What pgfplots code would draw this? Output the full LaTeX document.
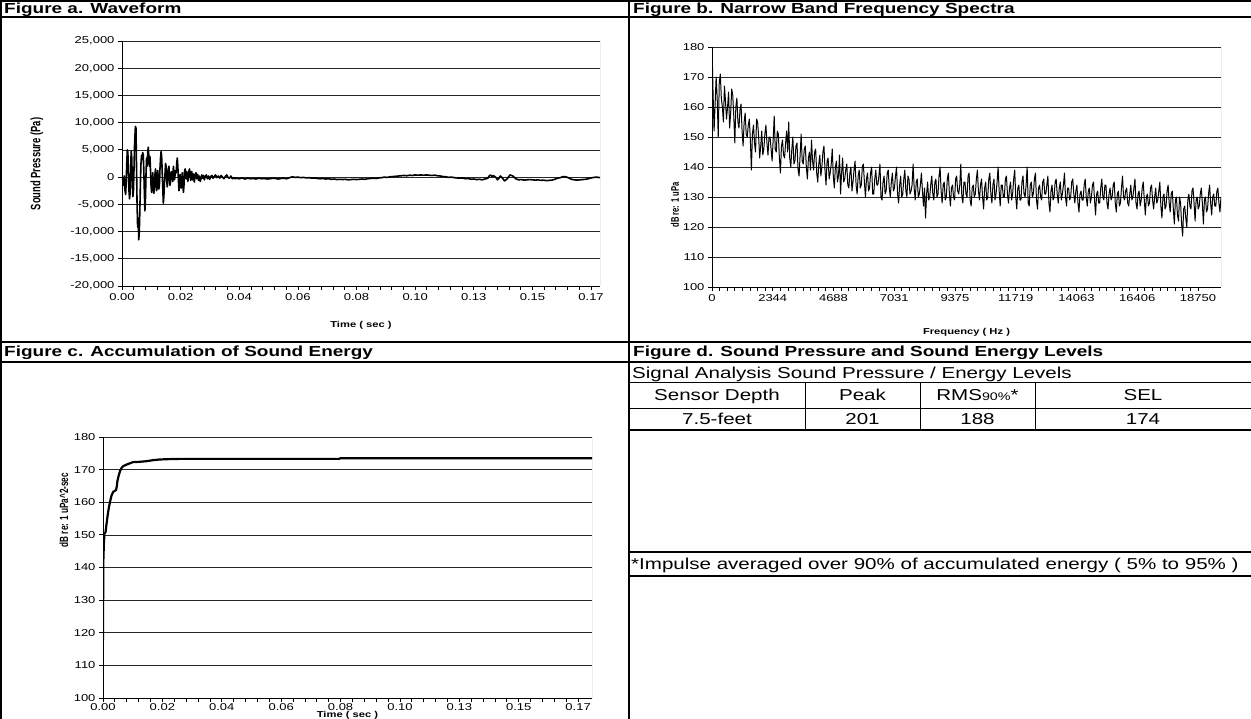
\documentclass[border=0pt]{standalone}
\usepackage{fontspec}
\setmainfont{Liberation Sans}[FakeStretch=1.3]
\newfontfamily\rotfont{Liberation Sans}
\usepackage{graphicx}
\usepackage{pgfplots}
\pgfplotsset{compat=1.18}

\newcommand\titlefont{\fontsize{14.6}{17}\selectfont\bfseries}
\newcommand\tablefont{\fontsize{15.8}{18}\selectfont}
\newcommand\tickfont{\fontsize{10}{11}\selectfont}
\newcommand\xlabfont{\fontsize{8.6}{10}\selectfont\bfseries}
% rotated axis titles: glyph heights stretched like the horizontal text
\newcommand\ylab[2]{\scalebox{1}[1.45]{\rotfont\fontsize{#1}{#1}\selectfont\bfseries #2}}

\pgfplotsset{
  excelaxis/.style={
    scale only axis, anchor=south west,
    axis x line*=bottom, axis y line*=left,
    axis line style={black, line width=0.9pt},
    tick align=outside,
    major tick length=4pt, minor tick length=4pt,
    every tick/.style={black, line width=0.8pt},
    ymajorgrids, grid style={black!85, line width=0.7pt},
    tick label style={font=\tickfont},
    scaled x ticks=false, scaled y ticks=false,
    /pgf/number format/assume math mode=true,
    minor y tick num=0,
    every axis plot/.append style={line join=round},
  },
}

\begin{document}
\begin{tikzpicture}
\path[use as bounding box] (0pt,0pt) rectangle (1251pt,-719pt);

% ---------------- Figure a: waveform ----------------
\begin{axis}[excelaxis,
  at={(122pt,-286pt)}, width=478pt, height=245pt,
  xmin=0, xmax=0.1712, ymin=-20000, ymax=25000,
  xtick={0,0.021,0.042,0.063,0.084,0.105,0.126,0.147,0.168},
  xticklabels={0.00,0.02,0.04,0.06,0.08,0.10,0.13,0.15,0.17},
  minor x tick num=4,
  ytick={-20000,-15000,-10000,-5000,0,5000,10000,15000,20000,25000},
  /pgf/number format/fixed, /pgf/number format/1000 sep={,},
  xlabel={Time ( sec )},
  xlabel style={font=\xlabfont, at={(axis description cs:0.5,-0.159)}, anchor=center},
  ylabel={\ylab{9.4}{Sound Pressure (Pa)}},
  ylabel style={at={(axis description cs:-0.178,0.498)}, anchor=center},
]
\addplot[black, line width=1.6pt] table {
t p
0.0000 0
0.0003 -600
0.0006 -1500
0.0008 200
0.0010 -2200
0.0013 -3200
0.0015 -1000
0.0017 2500
0.0019 5000
0.0021 4600
0.0023 1000
0.0025 -2500
0.0027 -4000
0.0029 -3000
0.0031 1500
0.0033 4800
0.0035 3500
0.0037 -1000
0.0039 -3600
0.0041 -2500
0.0043 1500
0.0045 6000
0.0048 9300
0.0050 9000
0.0052 2000
0.0054 -5000
0.0056 -9200
0.0058 -7500
0.0060 -11500
0.0062 -10000
0.0064 -6000
0.0066 -1000
0.0068 2500
0.0070 4000
0.0072 3200
0.0074 4500
0.0076 4200
0.0078 1500
0.0080 -2500
0.0082 -6200
0.0084 -4000
0.0086 500
0.0088 3500
0.0090 2000
0.0092 4500
0.0094 5500
0.0096 4000
0.0098 2000
0.0100 3800
0.0102 1500
0.0104 -1500
0.0106 -2800
0.0108 -1500
0.0110 800
0.0112 -1000
0.0114 -3000
0.0116 -2200
0.0118 500
0.0120 1500
0.0122 -200
0.0124 -2500
0.0126 -1800
0.0128 1200
0.0130 -500
0.0132 -2200
0.0134 -1500
0.0136 1500
0.0138 3500
0.0140 4700
0.0142 3800
0.0144 1000
0.0146 -2000
0.0148 -4800
0.0150 -3500
0.0152 -1000
0.0154 500
0.0156 2500
0.0158 2000
0.0160 -500
0.0162 -1800
0.0164 -1000
0.0166 1500
0.0168 2000
0.0170 500
0.0172 -1500
0.0174 -800
0.0176 800
0.0178 1000
0.0180 -200
0.0182 -800
0.0184 2000
0.0186 1000
0.0188 -500
0.0190 300
0.0192 1200
0.0194 800
0.0196 2500
0.0198 3500
0.0200 2000
0.0202 -500
0.0204 -2500
0.0206 -1500
0.0208 500
0.0210 -1000
0.0212 -2000
0.0214 -500
0.0216 800
0.0218 -1500
0.0220 -2800
0.0222 -1500
0.0224 1000
0.0226 1500
0.0228 500
0.0230 -300
0.0232 1000
0.0234 600
0.0236 -800
0.0238 400
0.0240 1200
0.0242 1500
0.0244 300
0.0246 -600
0.0248 800
0.0250 1000
0.0253 -500
0.0256 600
0.0259 -900
0.0262 300
0.0265 800
0.0268 -300
0.0271 500
0.0274 -600
0.0277 200
0.0280 -800
0.0283 -300
0.0286 400
0.0289 -200
0.0292 300
0.0295 -500
0.0298 100
0.0302 400
0.0306 -300
0.0310 200
0.0314 -400
0.0318 100
0.0322 300
0.0326 -200
0.0330 100
0.0335 400
0.0340 -100
0.0345 200
0.0350 -200
0.0355 300
0.0360 0
0.0365 -300
0.0370 100
0.0375 400
0.0380 -100
0.0385 -200
0.0390 200
0.0395 -300
0.0400 -100
0.0405 -300
0.0410 -200
0.0420 -300
0.0430 -150
0.0440 -350
0.0450 -200
0.0460 -300
0.0470 -250
0.0480 -350
0.0490 -200
0.0500 -300
0.0510 -250
0.0520 -350
0.0530 -300
0.0540 -200
0.0550 -250
0.0560 -350
0.0570 -250
0.0580 -200
0.0590 -300
0.0600 -100
0.0610 50
0.0620 -50
0.0630 0
0.0640 -100
0.0650 -50
0.0660 -150
0.0670 -100
0.0680 -200
0.0690 -150
0.0700 -250
0.0710 -300
0.0720 -250
0.0730 -350
0.0740 -300
0.0750 -400
0.0760 -350
0.0770 -450
0.0780 -400
0.0790 -450
0.0800 -400
0.0810 -500
0.0820 -450
0.0830 -400
0.0840 -450
0.0850 -400
0.0860 -350
0.0870 -400
0.0880 -300
0.0890 -250
0.0900 -200
0.0910 -250
0.0920 -150
0.0930 -100
0.0940 0
0.0950 -50
0.0960 50
0.0970 100
0.0980 150
0.0990 200
0.1000 250
0.1010 300
0.1020 250
0.1030 350
0.1040 300
0.1050 400
0.1060 350
0.1070 400
0.1080 350
0.1090 400
0.1100 350
0.1110 300
0.1120 350
0.1130 250
0.1140 200
0.1150 100
0.1160 50
0.1170 -50
0.1180 0
0.1190 -100
0.1200 -150
0.1210 -200
0.1220 -150
0.1230 -300
0.1240 -250
0.1250 -400
0.1260 -350
0.1270 -450
0.1280 -400
0.1290 -500
0.1300 -350
0.1310 -200
0.1315 200
0.1320 400
0.1325 100
0.1330 300
0.1340 -100
0.1345 -500
0.1350 -200
0.1355 200
0.1360 0
0.1370 -700
0.1380 -300
0.1385 100
0.1390 400
0.1400 200
0.1410 -300
0.1420 -500
0.1430 -450
0.1440 -550
0.1450 -500
0.1460 -450
0.1470 -500
0.1480 -550
0.1490 -500
0.1500 -600
0.1510 -550
0.1520 -650
0.1530 -600
0.1540 -550
0.1550 -400
0.1560 -200
0.1570 -100
0.1580 100
0.1590 50
0.1600 -150
0.1610 -400
0.1620 -500
0.1630 -550
0.1640 -500
0.1650 -450
0.1660 -400
0.1670 -300
0.1680 -150
0.1690 -50
0.1700 0
0.1712 -100
};
\draw[black!55, line width=0.8pt] (rel axis cs:1,0) -- (rel axis cs:1,1);
\end{axis}

% ---------------- Figure b: narrow band spectrum ----------------
\begin{axis}[excelaxis,
  at={(712pt,-287pt)}, width=509pt, height=240pt,
  xmin=0, xmax=19640, ymin=100, ymax=180,
  xtick={0,2343.75,4687.5,7031.25,9375,11718.75,14062.5,16406.25,18750},
  xticklabels={0,2344,4688,7031,9375,11719,14063,16406,18750},
  minor x tick num=7,
  ytick={100,110,...,180},
  xlabel={Frequency ( Hz )},
  xlabel style={font=\xlabfont, at={(axis description cs:0.5,-0.1875)}, anchor=center},
  ylabel={\ylab{7.6}{dB re: 1 uPa}},
  ylabel style={at={(axis description cs:-0.0728,0.342)}, anchor=center},
]
\addplot[black, line width=1pt] coordinates {
(0,180) (40,165) (80,152) (120,161) (160,170) (200,163) (240,150) (280,168) (320,171) (360,163)
(400,160) (440,155) (480,167) (520,162) (560,156) (600,160) (640,165) (680,153) (720,158) (760,166)
(800,164) (840,157) (880,148) (920,160) (960,163) (1000,155) (1040,153) (1080,159) (1120,161) (1160,152)
(1200,147) (1240,155) (1280,158) (1320,151) (1360,150) (1400,154) (1440,156) (1480,149) (1520,139) (1560,151)
(1600,154) (1640,148) (1680,145) (1720,156) (1760,155) (1800,150) (1840,143) (1880,147) (1920,152) (1960,144)
(2000,146) (2040,151) (2080,154) (2120,148) (2160,144) (2200,150) (2240,150) (2280,146) (2320,142) (2360,149)
(2400,157) (2440,146) (2480,145) (2520,152) (2560,151) (2600,143) (2640,138) (2680,147) (2720,149) (2760,144)
(2800,143) (2840,148) (2880,152) (2920,145) (2960,155) (3000,143) (3040,140) (3080,146) (3120,150) (3160,141)
(3200,142) (3240,147) (3280,148) (3320,139) (3360,137) (3400,144) (3440,151) (3480,142) (3520,141) (3560,146)
(3600,147) (3640,140) (3680,136) (3720,143) (3760,145) (3800,139) (3840,149) (3880,142) (3920,139) (3960,145)
(4000,146) (4040,138) (4080,135) (4120,141) (4160,144) (4200,137) (4240,140) (4280,145) (4320,147) (4360,139)
(4400,134) (4440,142) (4480,143) (4520,136) (4560,138) (4600,141) (4640,146) (4680,137) (4720,133) (4760,140)
(4800,142) (4840,135) (4880,137) (4920,144) (4960,131) (5000,138) (5040,143) (5080,135) (5120,136) (5160,139)
(5200,141) (5240,134) (5280,133) (5320,138) (5360,140) (5400,132) (5440,135) (5480,139) (5520,142) (5560,134)
(5600,131) (5640,137) (5680,139) (5720,133) (5760,134) (5800,140) (5840,141) (5880,135) (5920,130) (5960,136)
(6000,138) (6040,132) (6080,133) (6120,138) (6160,140) (6200,131) (6240,131) (6280,136) (6320,139) (6360,134)
(6400,134) (6440,137) (6480,141) (6520,130) (6560,129) (6600,135) (6640,137) (6680,131) (6720,132) (6760,138)
(6800,139) (6840,133) (6880,130) (6920,135) (6960,138) (7000,132) (7040,133) (7080,137) (7120,140) (7160,131)
(7200,128) (7240,134) (7280,137) (7320,130) (7360,131) (7400,136) (7440,139) (7480,132) (7520,130) (7560,137)
(7600,136) (7640,131) (7680,132) (7720,134) (7760,141) (7800,133) (7840,129) (7880,135) (7920,136) (7960,130)
(8000,131) (8040,134) (8080,138) (8120,132) (8160,127) (8200,133) (8240,123) (8280,131) (8320,135) (8360,129)
(8400,130) (8440,134) (8480,137) (8520,131) (8560,129) (8600,135) (8640,136) (8680,130) (8720,131) (8760,137)
(8800,140) (8840,132) (8880,128) (8920,134) (8960,135) (9000,129) (9040,130) (9080,136) (9120,138) (9160,131)
(9200,127) (9240,133) (9280,134) (9320,130) (9360,129) (9400,136) (9440,137) (9480,132) (9520,131) (9560,134)
(9600,141) (9640,130) (9680,128) (9720,135) (9760,135) (9800,131) (9840,130) (9880,137) (9920,138) (9960,129)
(10000,127) (10040,133) (10080,134) (10120,130) (10160,131) (10200,136) (10240,139) (10280,132) (10320,129) (10360,134)
(10400,136) (10440,130) (10480,126) (10520,133) (10560,135) (10600,129) (10640,130) (10680,136) (10720,138) (10760,131)
(10800,128) (10840,134) (10880,136) (10920,129) (10960,131) (11000,135) (11040,140) (11080,132) (11120,127) (11160,134)
(11200,134) (11240,130) (11280,130) (11320,136) (11360,137) (11400,131) (11440,128) (11480,133) (11520,135) (11560,129)
(11600,131) (11640,136) (11680,139) (11720,130) (11760,126) (11800,133) (11840,134) (11880,129) (11920,129) (11960,135)
(12000,137) (12040,131) (12080,130) (12120,134) (12160,140) (12200,128) (12240,127) (12280,134) (12320,135) (12360,130)
(12400,131) (12440,136) (12480,138) (12520,129) (12560,126) (12600,133) (12640,134) (12680,130) (12720,129) (12760,135)
(12800,136) (12840,131) (12880,131) (12920,134) (12960,137) (13000,128) (13040,125) (13080,132) (13120,134) (13160,129)
(13200,130) (13240,135) (13280,136) (13320,131) (13360,128) (13400,133) (13440,135) (13480,129) (13520,131) (13560,134)
(13600,138) (13640,130) (13680,127) (13720,133) (13760,133) (13800,129) (13840,130) (13880,135) (13920,136) (13960,131)
(14000,128) (14040,132) (14080,134) (14120,128) (14160,125) (14200,131) (14240,132) (14280,129) (14320,129) (14360,134)
(14400,136) (14440,130) (14480,127) (14520,132) (14560,133) (14600,128) (14640,130) (14680,134) (14720,135) (14760,129)
(14800,124) (14840,131) (14880,132) (14920,128) (14960,128) (15000,133) (15040,136) (15080,130) (15120,129) (15160,134)
(15200,134) (15240,128) (15280,126) (15320,131) (15360,133) (15400,129) (15440,130) (15480,134) (15520,135) (15560,128)
(15600,125) (15640,131) (15680,132) (15720,127) (15760,128) (15800,133) (15840,137) (15880,130) (15920,129) (15960,132)
(16000,133) (16040,128) (16080,127) (16120,131) (16160,134) (16200,129) (16240,130) (16280,133) (16320,136) (16360,128)
(16400,126) (16440,131) (16480,132) (16520,127) (16560,129) (16600,133) (16640,135) (16680,129) (16720,124) (16760,130)
(16800,131) (16840,127) (16880,128) (16920,133) (16960,134) (17000,129) (17040,126) (17080,130) (17120,133) (17160,128)
(17200,129) (17240,132) (17280,135) (17320,127) (17360,123) (17400,130) (17440,131) (17480,126) (17520,127) (17560,132)
(17600,134) (17640,128) (17680,125) (17720,131) (17760,132) (17800,126) (17840,121) (17880,129) (17920,130) (17960,124)
(18000,122) (18040,130) (18080,128) (18120,121) (18160,117) (18200,126) (18240,127) (18280,123) (18320,120) (18360,129)
(18400,131) (18440,127) (18480,126) (18520,132) (18560,133) (18600,128) (18640,122) (18680,129) (18720,130) (18760,126)
(18800,127) (18840,131) (18880,133) (18920,128) (18960,121) (19000,129) (19040,130) (19080,125) (19120,126) (19160,131)
(19200,134) (19240,128) (19280,124) (19320,130) (19360,131) (19400,127) (19440,127) (19480,132) (19520,133) (19560,128)
(19600,125) (19640,130)
};
\draw[black!55, line width=0.8pt] (rel axis cs:1,0) -- (rel axis cs:1,1);
\end{axis}

% ---------------- Figure c: accumulated sound energy ----------------
\begin{axis}[excelaxis,
  at={(103pt,-698pt)}, width=489pt, height=261pt,
  xmin=0, xmax=0.1729, ymin=100, ymax=180,
  xtick={0,0.021,0.042,0.063,0.084,0.105,0.126,0.147,0.168},
  xticklabels={0.00,0.02,0.04,0.06,0.08,0.10,0.13,0.15,0.17},
  minor x tick num=4,
  ytick={100,110,...,180},
  xticklabel style={yshift=2pt},
  xlabel={Time ( sec )},
  xlabel style={font=\xlabfont, at={(axis description cs:0.5,-0.0653)}, anchor=center},
  ylabel={\ylab{8.2}{dB re: 1 uPa\^{}2-sec}},
  ylabel style={at={(axis description cs:-0.0798,0.72)}, anchor=center},
]
\addplot[black, line width=2.2pt] table {
t sel
0.0000 117.8
0.0001 141.5
0.0003 147.0
0.0005 150.4
0.0009 150.8
0.0012 153.0
0.0017 156.3
0.0021 158.5
0.0025 160.2
0.0030 162.0
0.0036 163.2
0.0046 163.7
0.0049 165.0
0.0051 166.5
0.0055 168.0
0.0060 169.5
0.0066 170.6
0.0072 171.1
0.0085 171.6
0.0100 172.1
0.0106 172.3
0.0130 172.4
0.0155 172.6
0.0177 172.9
0.0200 173.1
0.0226 173.2
0.0272 173.3
0.0835 173.3
0.0840 173.5
0.1729 173.5
};
\draw[black!55, line width=0.8pt] (rel axis cs:1,0) -- (rel axis cs:1,1);
\end{axis}

% ---------------- frame of the four panels ----------------
\draw[line width=2pt] (0pt,-1pt) -- (1251pt,-1pt);
\draw[line width=2pt] (1pt,0pt) -- (1pt,-719pt);
\draw[line width=2pt] (0pt,-17.5pt) -- (1251pt,-17.5pt);
\draw[line width=2pt] (628.5pt,0pt) -- (628.5pt,-719pt);
\draw[line width=2pt] (0pt,-342pt) -- (1251pt,-342pt);
\draw[line width=1.6pt] (0pt,-362pt) -- (1251pt,-362pt);

\node[anchor=base west, inner sep=0pt, font=\titlefont] at (4pt,-14pt) {Figure a. Waveform};
\node[anchor=base west, inner sep=0pt, font=\titlefont] at (633pt,-14pt) {Figure b. Narrow Band Frequency Spectra};
\node[anchor=base west, inner sep=0pt, font=\titlefont] at (4pt,-357pt) {Figure c. Accumulation of Sound Energy};
\node[anchor=base west, inner sep=0pt, font=\titlefont] at (633pt,-357pt) {Figure d. Sound Pressure and Sound Energy Levels};

% ---------------- Figure d: level table ----------------
\draw[line width=1pt] (629pt,-383pt) -- (1251pt,-383pt);
\draw[line width=1pt] (629pt,-408pt) -- (1251pt,-408pt);
\draw[line width=2pt] (629pt,-430pt) -- (1251pt,-430pt);
\draw[line width=1.4pt] (629pt,-552pt) -- (1251pt,-552pt);
\draw[line width=1.4pt] (629pt,-576pt) -- (1251pt,-576pt);
\foreach \xx in {805,920,1035} \draw[line width=1pt] (\xx pt,-383pt) -- (\xx pt,-430pt);

\node[anchor=base west, inner sep=0pt, font=\tablefont] at (632pt,-378pt) {Signal Analysis Sound Pressure / Energy Levels};
\node[anchor=base, inner sep=0pt, font=\tablefont] at (717pt,-401pt) {Sensor Depth};
\node[anchor=base, inner sep=0pt, font=\tablefont] at (862.5pt,-401pt) {Peak};
\node[anchor=base, inner sep=0pt, font=\tablefont] at (977.5pt,-401pt) {RMS{\fontsize{11}{11}\selectfont 90\%}*};
\node[anchor=base, inner sep=0pt, font=\tablefont] at (1143pt,-401pt) {SEL};
\node[anchor=base, inner sep=0pt, font=\tablefont] at (717pt,-424.5pt) {7.5-feet};
\node[anchor=base, inner sep=0pt, font=\tablefont] at (862.5pt,-424.5pt) {201};
\node[anchor=base, inner sep=0pt, font=\tablefont] at (977.5pt,-424.5pt) {188};
\node[anchor=base, inner sep=0pt, font=\tablefont] at (1143pt,-424.5pt) {174};
\node[anchor=base west, inner sep=0pt, font=\tablefont] at (631pt,-569.5pt) {*Impulse averaged over 90\% of accumulated energy ( 5\% to 95\% )};
\end{tikzpicture}
\end{document}
